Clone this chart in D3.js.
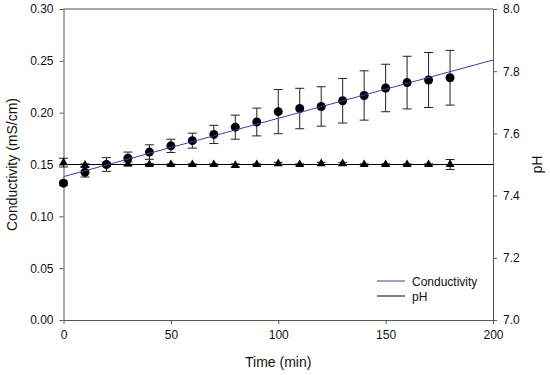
<!DOCTYPE html>
<html>
<head>
<meta charset="utf-8">
<script src="https://cdn.jsdelivr.net/npm/d3@7"></script>
<style>
  body { margin: 0; background: #fff; }
  text { font-family: "Liberation Sans", Arial, sans-serif; fill: #111; }
  .axis path, .axis line { stroke: #555; }
</style>
</head>
<body>
<div id="chart"></div>
<script>
// data
var times = [0, 10, 20, 30, 40, 50, 60, 70, 80, 90, 100, 110, 120, 130, 140, 150, 160, 170, 180];
var conductivity = [0.132, 0.1425, 0.150, 0.156, 0.162, 0.168, 0.173, 0.179, 0.186, 0.191, 0.201, 0.204, 0.206, 0.2115, 0.2166, 0.2238, 0.229, 0.2315, 0.2337];
var conductivityErr = [0.002, 0.0046, 0.0066, 0.006, 0.007, 0.0064, 0.0072, 0.0088, 0.0116, 0.0134, 0.0213, 0.0195, 0.019, 0.0215, 0.0238, 0.0229, 0.0254, 0.0265, 0.0264];
var pH = [7.506, 7.498, 7.501, 7.502, 7.5, 7.5, 7.5, 7.5, 7.497, 7.5, 7.503, 7.5, 7.503, 7.503, 7.5, 7.5, 7.5, 7.5, 7.5];
var pHErr = [0.014, 0.004, 0.005, 0.006, 0.003, 0.002, 0.002, 0.002, 0.005, 0.002, 0.004, 0.002, 0.004, 0.004, 0.002, 0.002, 0.002, 0.002, 0.016];
// fitted lines (end points)
var condFit = [[0, 0.1383], [200, 0.2508]];
var pHFit = [[0, 7.5], [200, 7.5]];

var xTicks = [0, 50, 100, 150, 200];
var yTicks = [0, 0.05, 0.10, 0.15, 0.20, 0.25, 0.30];
var y2Ticks = [7.0, 7.2, 7.4, 7.6, 7.8, 8.0];

var svgWidth = 550;
var svgHeight = 375;
var margin = { top: 9, right: 57, bottom: 55, left: 63.5 };
var width = 493 - margin.left;
var height = svgHeight - margin.top - margin.bottom;

var blue = "#3a3ac4";

var svg = d3.select("#chart")
  .append("svg")
  .attr("width", svgWidth)
  .attr("height", svgHeight);

var chartGroup = svg.append("g")
  .attr("transform", `translate(${margin.left}, ${margin.top})`);

var x = d3.scaleLinear().domain([0, 200]).range([0, width]);
var y = d3.scaleLinear().domain([0, 0.3]).range([height, 0]);
var y2 = d3.scaleLinear().domain([7, 8]).range([height, 0]);

var rows = times.map(function(t, i) {
  return { t: t, c: conductivity[i], ce: conductivityErr[i], p: pH[i], pe: pHErr[i] };
});

// top frame line
chartGroup.append("line")
  .attr("x1", 0).attr("x2", width)
  .attr("y1", 0).attr("y2", 0)
  .attr("stroke", "#555");

// axes
chartGroup.append("g")
  .attr("class", "axis")
  .attr("transform", `translate(0, ${height})`)
  .call(d3.axisBottom(x).tickValues(xTicks).tickSize(4).tickPadding(6).tickSizeOuter(0))
  .selectAll("text").style("font-size", "12px");

chartGroup.append("g")
  .attr("class", "axis")
  .call(d3.axisLeft(y).tickValues(yTicks).tickFormat(d3.format(".2f")).tickSize(4).tickPadding(6).tickSizeOuter(0))
  .selectAll("text").style("font-size", "12px");

chartGroup.append("g")
  .attr("class", "axis")
  .attr("transform", `translate(${width}, 0)`)
  .call(d3.axisRight(y2).tickValues(y2Ticks).tickFormat(d3.format(".1f")).tickSize(4).tickPadding(6).tickSizeOuter(0))
  .selectAll("text").style("font-size", "12px");

chartGroup.selectAll(".axis text").attr("fill", "#111");

// axis titles
svg.append("text")
  .attr("x", margin.left + width / 2)
  .attr("y", 367)
  .attr("text-anchor", "middle")
  .style("font-size", "14px")
  .text("Time (min)");

svg.append("text")
  .attr("transform", `translate(17, ${margin.top + height / 2}) rotate(-90)`)
  .attr("text-anchor", "middle")
  .style("font-size", "14px")
  .text("Conductivity (mS/cm)");

svg.append("text")
  .attr("transform", `translate(542, ${margin.top + height / 2}) rotate(-90)`)
  .attr("text-anchor", "middle")
  .style("font-size", "14px")
  .text("pH");

var line = d3.line();
var cap = 4.5;

// pH fit line
chartGroup.append("path")
  .attr("d", line(pHFit.map(d => [x(d[0]), y2(d[1])])))
  .attr("stroke", "#000")
  .attr("stroke-width", 1)
  .attr("fill", "none");

// error bars
function errorBars(cls, val, err, scale) {
  var g = chartGroup.selectAll("g." + cls)
    .data(rows)
    .enter()
    .append("g")
    .attr("class", cls)
    .attr("stroke", "#222")
    .attr("stroke-width", 1);
  g.append("line")
    .attr("x1", d => x(d.t)).attr("x2", d => x(d.t))
    .attr("y1", d => scale(d[val] + d[err])).attr("y2", d => scale(d[val] - d[err]));
  g.append("line")
    .attr("x1", d => x(d.t) - cap).attr("x2", d => x(d.t) + cap)
    .attr("y1", d => scale(d[val] + d[err])).attr("y2", d => scale(d[val] + d[err]));
  g.append("line")
    .attr("x1", d => x(d.t) - cap).attr("x2", d => x(d.t) + cap)
    .attr("y1", d => scale(d[val] - d[err])).attr("y2", d => scale(d[val] - d[err]));
}

errorBars("perr", "p", "pe", y2);
errorBars("cerr", "c", "ce", y);

// pH triangles
chartGroup.selectAll("path.tri")
  .data(rows)
  .enter()
  .append("path")
  .attr("class", "tri")
  .attr("d", d3.symbol().type(d3.symbolTriangle).size(34))
  .attr("transform", d => `translate(${x(d.t)}, ${y2(d.p)})`)
  .attr("fill", "#000");

// conductivity circles
chartGroup.selectAll("circle")
  .data(rows)
  .enter()
  .append("circle")
  .attr("cx", d => x(d.t))
  .attr("cy", d => y(d.c))
  .attr("r", 4.5)
  .attr("fill", "#000");

// conductivity fit line
chartGroup.append("path")
  .attr("d", line(condFit.map(d => [x(d[0]), y(d[1])])))
  .attr("stroke", blue)
  .attr("stroke-width", 1)
  .attr("fill", "none");

// legend
var legend = svg.append("g").attr("transform", "translate(377, 281)");
legend.append("line").attr("x1", 0).attr("x2", 28).attr("y1", 0).attr("y2", 0)
  .attr("stroke", blue);
legend.append("text").attr("x", 35).attr("y", 4.5).style("font-size", "12px").text("Conductivity");
legend.append("line").attr("x1", 0).attr("x2", 28).attr("y1", 15).attr("y2", 15)
  .attr("stroke", "#000");
legend.append("text").attr("x", 35).attr("y", 19.5).style("font-size", "12px").text("pH");
</script>
</body>
</html>
